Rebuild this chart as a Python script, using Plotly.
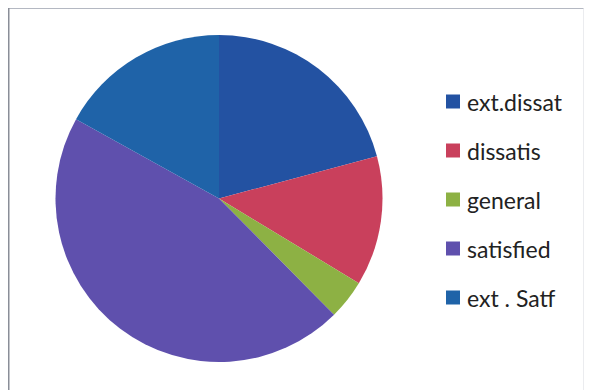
import plotly.graph_objects as go

labels = ["ext.dissat", "dissatis", "general", "satisfied", "ext . Satf"]
values = [20.8, 12.8, 3.9, 45.4, 16.9]
colors = ["#2352A2", "#C9405C", "#8DB144", "#5F50AD", "#1F63A8"]

# the page body keeps its 8px margin, so the figure is drawn 8px smaller
W, H = 584, 382
OFF = 8


def px_x(x):
    return (x - OFF) / W


def px_y(y):
    return 1 - (y - OFF) / H


fig = go.Figure()

fig.add_trace(go.Pie(
    labels=labels,
    values=values,
    sort=False,
    direction="clockwise",
    rotation=0,
    textinfo="none",
    hoverinfo="label+percent",
    marker=dict(colors=colors, line=dict(width=0)),
    domain=dict(x=[px_x(55), px_x(383)], y=[px_y(362), px_y(35)]),
    showlegend=False,
))

# legend drawn by hand so the row spacing matches
legend_x = 446
legend_y0 = 101.5
legend_step = 49
shapes = [
    dict(type="line", xref="paper", yref="paper", x0=0, x1=1, y0=1, y1=1,
         line=dict(color="#B4B8C2", width=2)),
    dict(type="line", xref="paper", yref="paper", x0=0, x1=0, y0=0, y1=1,
         line=dict(color="#8A8E98", width=3)),
    dict(type="line", xref="paper", yref="paper", x0=px_x(584), x1=px_x(584), y0=0, y1=1,
         line=dict(color="#E4E6EA", width=1.5)),
]
annotations = []
for i, (lab, col) in enumerate(zip(labels, colors)):
    yc = legend_y0 + i * legend_step
    shapes.append(dict(type="rect", xref="paper", yref="paper",
                       x0=px_x(legend_x), x1=px_x(legend_x + 14),
                       y0=px_y(yc + 7), y1=px_y(yc - 7),
                       fillcolor=col, line=dict(width=0)))
    annotations.append(dict(text=lab, xref="paper", yref="paper",
                            x=px_x(legend_x + 19), y=px_y(yc),
                            xanchor="left", yanchor="middle", showarrow=False,
                            font=dict(family="Lato", size=23, color="#222222")))

fig.update_layout(
    width=W,
    height=H,
    margin=dict(l=0, r=0, t=0, b=0),
    paper_bgcolor="white",
    plot_bgcolor="white",
    shapes=shapes,
    annotations=annotations,
)

fig.write_html("out.html")
